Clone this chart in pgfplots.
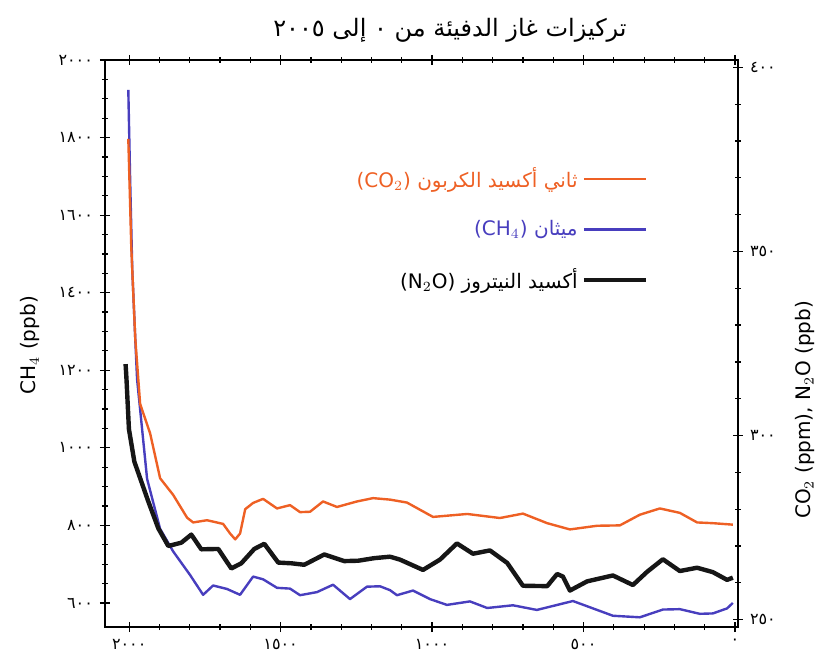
\documentclass[border=0pt]{standalone}
\usepackage{fontspec}
\setmainfont{DejaVu Sans}
\newfontfamily\arabicfont[Script=Arabic]{DejaVu Sans}
\newfontfamily\latinfont{DejaVu Sans}
\TeXXeTstate=1
\usepackage{pgfplots}
\pgfplotsset{compat=1.18}
\definecolor{co2}{RGB}{238,96,36}
\definecolor{ch4}{RGB}{72,62,190}
\definecolor{ntwo}{RGB}{22,22,22}

\pgfplotstableread{
yr v
2003 1923
1997 1692
1990 1460
1980 1280
1974 1177
1941 920
1898 791
1855 733
1799 672
1756 621
1723 645
1677 636
1634 621
1591 668
1558 661
1512 639
1469 637
1436 620
1380 628
1327 647
1271 610
1215 642
1172 643
1139 633
1116 620
1063 632
1007 610
951 595
875 604
818 587
733 594
654 582
535 605
469 586
403 567
314 563
238 583
182 584
116 572
73 573
26 586
7 600
}\chfour

\pgfplotstableread{
yr v
2003 380.6
1993 350.7
1980 326.3
1964 308.6
1931 300.6
1898 288.4
1855 283.9
1809 277.7
1789 276.4
1743 277.0
1690 276.0
1667 273.4
1650 271.8
1634 273.4
1617 280.0
1591 281.7
1558 282.8
1512 280.2
1469 281.1
1436 279.2
1403 279.3
1360 282.1
1314 280.6
1248 282.1
1195 283.0
1139 282.6
1083 281.8
997 277.9
884 278.7
776 277.6
700 278.8
620 276.2
545 274.5
455 275.5
380 275.6
314 278.5
248 280.2
182 279.0
125 276.4
73 276.2
7 275.8
}\cotwo

\pgfplotstableread{
yr v
2012 319.4
2009 315.3
2001 301.8
1983 292.9
1937 282.1
1904 274.8
1871 270.0
1828 270.9
1795 273.1
1762 269.1
1706 269.2
1663 263.9
1630 265.3
1587 269.2
1554 270.6
1508 265.5
1464 265.3
1422 264.9
1356 267.7
1290 265.9
1244 266.0
1191 266.7
1139 267.1
1106 266.3
1030 263.5
974 266.3
918 270.7
865 267.9
809 268.8
752 265.4
700 259.2
620 259.1
587 262.4
568 261.7
545 257.9
488 260.4
403 262.0
337 259.4
290 263.0
238 266.4
182 263.2
125 264.1
73 262.9
26 260.8
7 261.4
}\ntwoo

\begin{document}
\begin{tikzpicture}
\useasboundingbox (-52.5pt,-21.5pt) rectangle (362.5pt,313.5pt);
\pgfplotsset{
  common/.style={
    scale only axis, width=316.5pt, height=283.5pt,
    xmin=-10, xmax=2080, x dir=reverse,
    tick align=center,
    major tick length=5pt, minor tick length=3pt,
    every tick/.style={black, line width=0.6pt},
    tick label style={font=\footnotesize\arabicfont},
    axis line style={line width=0.8pt},
  }
}
\begin{axis}[common, at={(0,0)}, anchor=south west,
  ymin=538, ymax=2000,
  ytick={600,800,1000,1200,1400,1600,1800,2000},
  yticklabels={٦٠٠,٨٠٠,١٠٠٠,١٢٠٠,١٤٠٠,١٦٠٠,١٨٠٠,٢٠٠٠},
  minor y tick num=3,
  ytick pos=left,
  xtick={0,500,1000,1500,2000},
  xticklabels={٠,٥٠٠,١٠٠٠,١٥٠٠,٢٠٠٠},
  minor x tick num=4,
  clip=false,
]
\addplot[ch4, line width=1.2pt, line join=round] table[x=yr,y=v] {\chfour};
\node[rotate=90, font=\normalsize] at (rel axis cs:-0.118,0.497) {CH$_4$ (ppb)};
\node[font=\large] at (rel axis cs:0.545,1.053) {\arabicfont\beginR تركيزات غاز الدفيئة من ٠ إلى \beginL٢٠٠٥\endL\endR};
\node[rotate=90, font=\normalsize] at (rel axis cs:1.106,0.383) {CO$_2$ (ppm), N$_2$O (ppb)};
\end{axis}
\begin{axis}[common, at={(0,0)}, anchor=south west,
  ymin=248, ymax=402,
  axis y line*=right, axis x line=none,
  ytick={250,300,350,400},
  yticklabels={٢٥٠,٣٠٠,٣٥٠,٤٠٠},
  minor y tick num=4,
  legend style={at={(0.869,0.825)}, anchor=north east, draw=none, fill=none,
    font=\normalsize, row sep=11pt},
  legend plot pos=right,
  legend cell align=right,
  legend image code/.code={\draw[#1] (0cm,0cm) -- (1.1cm,0cm);},
]
\addplot[co2, line width=1.2pt, line join=round] table[x=yr,y=v] {\cotwo};
\addlegendentry{{\color{co2}\arabicfont\beginR ثاني أكسيد الكربون \beginL{\latinfont(CO$_2$)}\endL\endR}}
\addlegendimage{ch4, line width=1.2pt}
\addlegendentry{{\color{ch4}\arabicfont\beginR ميثان \beginL{\latinfont(CH$_4$)}\endL\endR}}
\addplot[ntwo, line width=2.2pt, line join=round] table[x=yr,y=v] {\ntwoo};
\addlegendentry{\arabicfont\beginR أكسيد النيتروز \beginL{\latinfont(N$_2$O)}\endL\endR}
\end{axis}
\end{tikzpicture}
\end{document}
